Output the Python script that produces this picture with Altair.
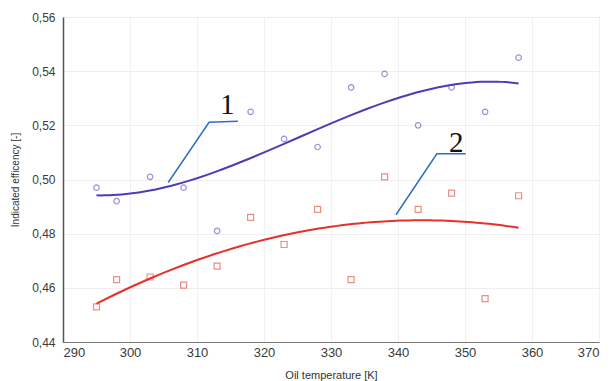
import altair as alt
import pandas as pd

# Oil temperature [K] for each measurement
temperature = [295, 298, 303, 308, 313, 318, 323, 328, 333, 338, 343, 348, 353, 358]
# Indicated efficiency, series 1 (circles) and series 2 (squares)
eff_1 = [0.497, 0.492, 0.501, 0.497, 0.481, 0.525, 0.515, 0.512, 0.534, 0.539, 0.520, 0.534, 0.525, 0.545]
eff_2 = [0.453, 0.463, 0.464, 0.461, 0.468, 0.486, 0.476, 0.489, 0.463, 0.501, 0.489, 0.495, 0.456, 0.494]

# Leader lines for curve labels (data units): elbow polyline + label anchor
lead_1_x = [305.7, 311.8, 316.1]
lead_1_y = [0.4989, 0.5211, 0.5215]
lead_2_x = [339.7, 345.8, 350.1]
lead_2_y = [0.4870, 0.5095, 0.5095]
labels = ["1", "2"]
label_x = [314.5, 348.7]
label_y = [0.5274, 0.5133]

x_ticks = list(range(290, 371, 10))
y_ticks = [0.44, 0.46, 0.48, 0.50, 0.52, 0.54, 0.56]

df1 = pd.DataFrame({"T": temperature, "eff": eff_1})
df2 = pd.DataFrame({"T": temperature, "eff": eff_2})
lead = pd.DataFrame({
    "x": lead_1_x + lead_2_x,
    "y": lead_1_y + lead_2_y,
    "grp": ["1"] * 3 + ["2"] * 3,
    "ord": [0, 1, 2] * 2,
})
lab = pd.DataFrame({"x": label_x, "y": label_y, "t": labels})

FONT = "Liberation Sans"

x_enc = alt.X(
    "T:Q",
    scale=alt.Scale(domain=[290, 370], nice=False),
    axis=alt.Axis(
        values=x_ticks, title="Oil temperature [K]", format="d",
        labelFont=FONT, labelFontSize=13, labelColor="#3a3a3a",
        titleFont=FONT, titleFontSize=11, titleFontWeight="normal", titleColor="#333",
        titlePadding=10, labelPadding=4,
        domainColor="#777", ticks=False,
        grid=True, gridColor="#f1f1f1",
    ),
)
y_enc = alt.Y(
    "eff:Q",
    scale=alt.Scale(domain=[0.44, 0.56], nice=False),
    axis=alt.Axis(
        values=y_ticks, title="Indicated efficency [-]",
        labelExpr="replace(format(datum.value, '.2f'), '.', ',')",
        labelFont=FONT, labelFontSize=12, labelColor="#3a3a3a",
        titleFont=FONT, titleFontSize=10, titleFontWeight="normal", titleColor="#333",
        titlePadding=11, labelPadding=8,
        domainColor="#555", domainWidth=1.5, ticks=False,
        grid=True, gridColor="#eeeeee",
    ),
)

pts1 = alt.Chart(df1).mark_point(
    shape="circle", size=30, filled=False, color="#7262c9", strokeWidth=1.2
).encode(x=x_enc, y=y_enc)

pts2 = alt.Chart(df2).mark_point(
    shape="square", size=36, filled=False, color="#e06058", strokeWidth=1.2
).encode(x="T:Q", y="eff:Q")

fit1 = alt.Chart(df1).transform_regression(
    "T", "eff", method="poly", order=3, extent=[295, 358]
).mark_line(color="#4b3db5", strokeWidth=2).encode(x="T:Q", y="eff:Q")

fit2 = alt.Chart(df2).transform_regression(
    "T", "eff", method="poly", order=2, extent=[295, 358]
).mark_line(color="#e8302a", strokeWidth=2).encode(x="T:Q", y="eff:Q")

leaders = alt.Chart(lead).mark_line(color="#2f6fc0", strokeWidth=1.5).encode(
    x="x:Q", y="y:Q", detail="grp:N", order="ord:Q"
)

texts = alt.Chart(lab).mark_text(
    font="Liberation Serif", fontSize=29, color="#111", align="center", baseline="middle"
).encode(x="x:Q", y="y:Q", text="t:N")

chart = alt.layer(pts1, pts2, fit1, fit2, leaders, texts).properties(
    width=536, height=325,
    padding={"left": 63, "top": 17, "right": 11, "bottom": 39},
    autosize=alt.AutoSizeParams(type="none"),
    background="white",
).configure_view(stroke="#888", strokeWidth=1)

chart.save("out.html", embed_options={"renderer": "svg", "actions": False})
